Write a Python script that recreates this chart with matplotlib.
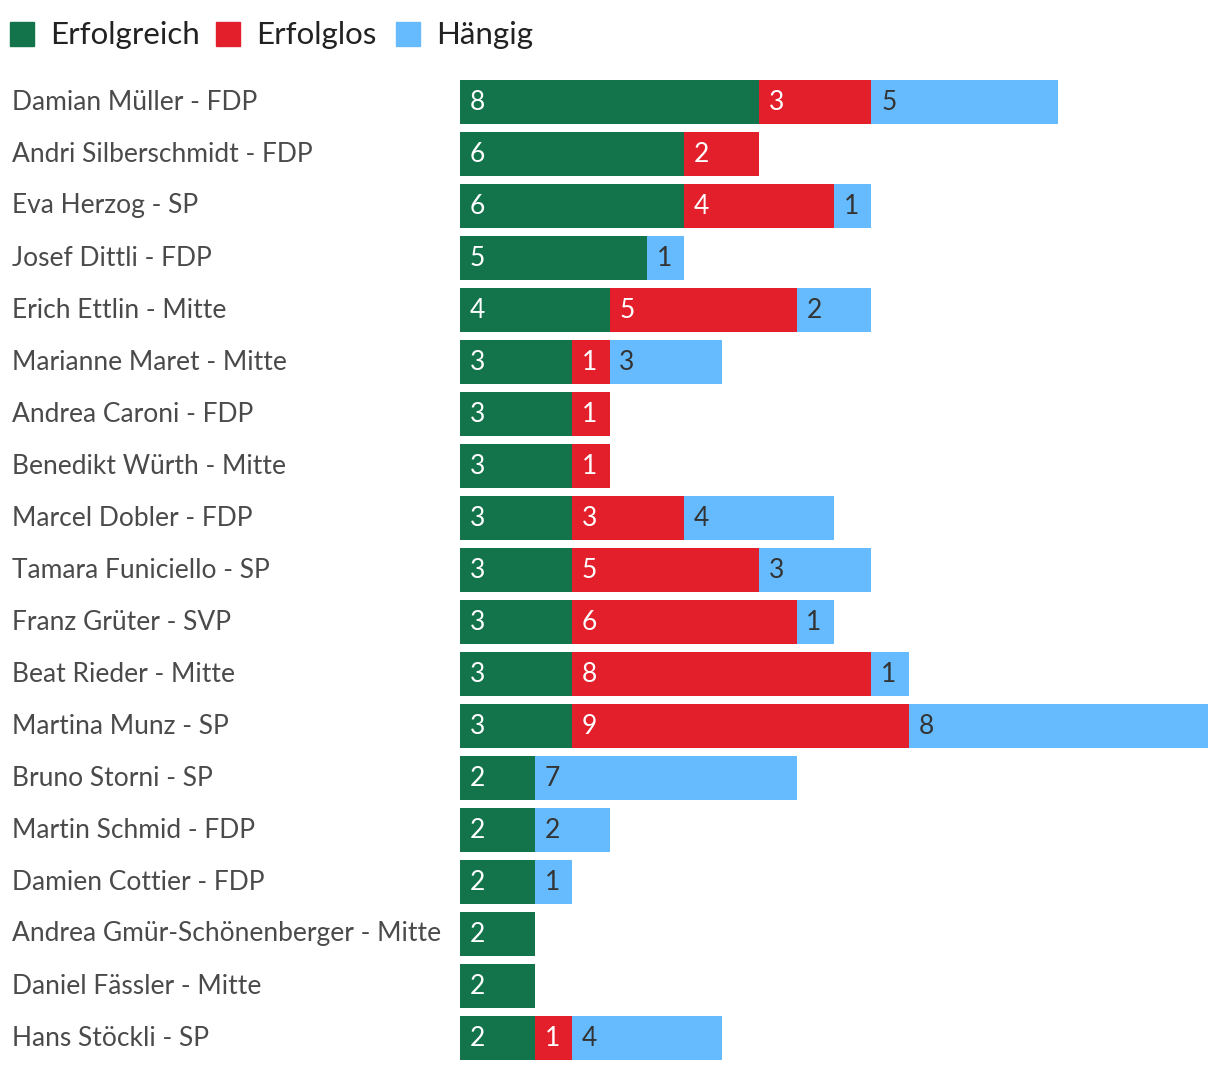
import matplotlib
matplotlib.use("Agg")
import matplotlib.pyplot as plt
from matplotlib.patches import Rectangle
import matplotlib.transforms as mtrans

names = ["Damian Müller - FDP", "Andri Silberschmidt - FDP", "Eva Herzog - SP",
         "Josef Dittli - FDP", "Erich Ettlin - Mitte", "Marianne Maret - Mitte",
         "Andrea Caroni - FDP", "Benedikt Würth - Mitte", "Marcel Dobler - FDP",
         "Tamara Funiciello - SP", "Franz Grüter - SVP", "Beat Rieder - Mitte",
         "Martina Munz - SP", "Bruno Storni - SP", "Martin Schmid - FDP",
         "Damien Cottier - FDP", "Andrea Gmür-Schönenberger - Mitte",
         "Daniel Fässler - Mitte", "Hans Stöckli - SP"]
erfolgreich = [8, 6, 6, 5, 4, 3, 3, 3, 3, 3, 3, 3, 3, 2, 2, 2, 2, 2, 2]
erfolglos   = [3, 2, 4, 0, 5, 1, 1, 1, 3, 5, 6, 8, 9, 0, 0, 0, 0, 0, 1]
haengig     = [5, 0, 1, 1, 2, 3, 0, 0, 4, 3, 1, 1, 8, 7, 2, 1, 0, 0, 4]
series_names = ["Erfolgreich", "Erfolglos", "Hängig"]
colors = ["#13744b", "#e31f2b", "#66bbfe"]
text_colors = ["white", "white", "#333333"]

FONT = "Lato"
W, H = 1220, 1072
fig = plt.figure(figsize=(W/100, H/100), dpi=100)
ax = fig.add_axes([460/W, 8/H, (1208-460)/W, (1064-76)/H])
ax.set_xlim(0, 20)
ax.set_ylim(len(names)-0.5, -0.5)
ax.axis("off")

ys = list(range(len(names)))
left = [0]*len(names)
for vals, c, tc in zip([erfolgreich, erfolglos, haengig], colors, text_colors):
    ax.barh(ys, vals, left=left, height=44/52, color=c, linewidth=0)
    for y, v, l in zip(ys, vals, left):
        if v > 0:
            ax.annotate(str(v), (l, y), xytext=(7, 0), textcoords="offset points",
                        ha="left", va="center", fontsize=19, color=tc,
                        family=FONT, fontweight="normal")
    left = [a+b for a, b in zip(left, vals)]

trans = mtrans.blended_transform_factory(fig.transFigure, ax.transData)
for y, n in zip(ys, names):
    ax.text(12/W, y, n, transform=trans, ha="left", va="center", fontsize=19,
            color="#4a4a4a", family=FONT, fontweight="normal")

# legend
leg_x = [10, 216, 396]
for x0, nm, c in zip(leg_x, series_names, colors):
    fig.patches.append(Rectangle((x0/W, 1-46/H), 24/W, 24/H, color=c,
                                 transform=fig.transFigure, figure=fig))
    fig.text((x0+40)/W, 1-35/H, nm, ha="left", va="center", fontsize=22.5,
             color="#222222", family=FONT, fontweight="normal")

fig.savefig("out.png", dpi=100)
